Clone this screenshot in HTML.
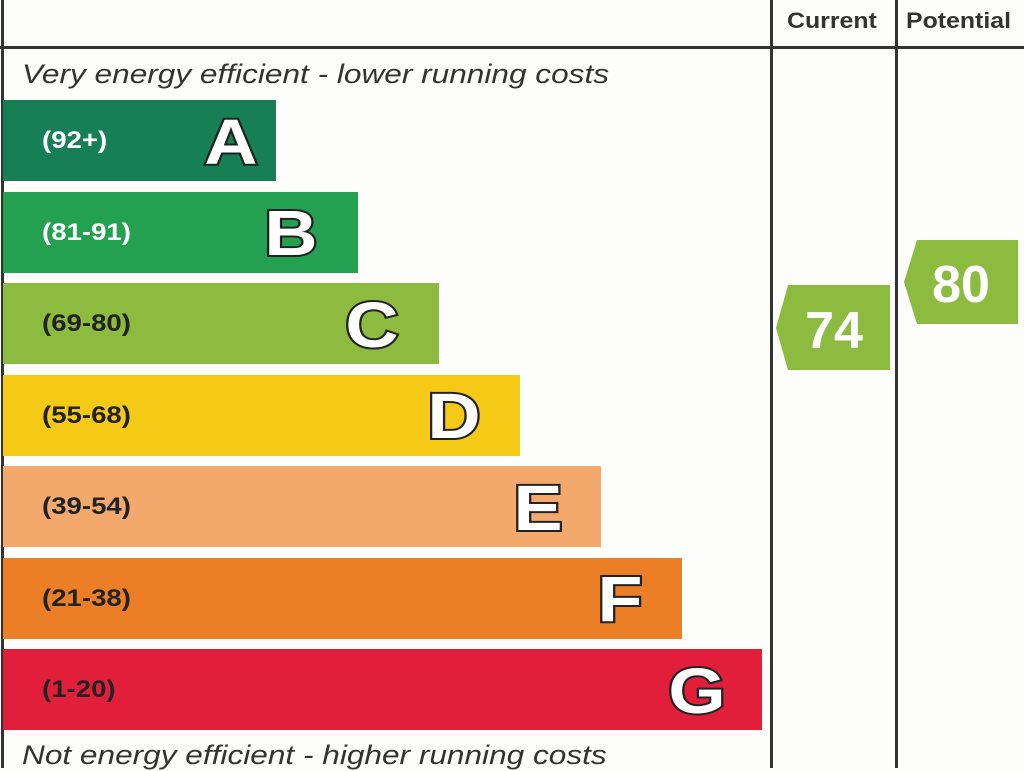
<!DOCTYPE html>
<html><head><style>
body{margin:0;width:1024px;height:768px;background:#fdfdfc;position:relative;overflow:hidden;font-family:"Liberation Sans",Arial,sans-serif}
.ln{position:absolute;background:#333}
.bar{position:absolute;left:3px;height:81px}
.r{position:absolute;left:39px;top:0;line-height:81px;font-size:24px;font-weight:bold;transform:scaleX(1.15);transform-origin:left center}
.it{position:absolute;left:22px;font-style:italic;font-size:27px;color:#333;transform:scaleX(1.17);transform-origin:left top;white-space:nowrap}
.h{position:absolute;top:8px;font-weight:bold;font-size:22px;color:#333;transform:scaleX(1.13);transform-origin:left top}
</style></head><body>
<div class="ln" style="left:1px;top:0;width:3px;height:768px"></div>
<div class="ln" style="left:0;top:46px;width:1024px;height:3px"></div>
<div class="ln" style="left:770px;top:0;width:3px;height:768px"></div>
<div class="ln" style="left:895px;top:0;width:3px;height:768px"></div>
<div class="h" style="left:787px">Current</div>
<div class="h" style="left:906px">Potential</div>
<div class="it" style="top:59px">Very energy efficient - lower running costs</div>
<div class="it" style="top:740px">Not energy efficient - higher running costs</div>
<div class="bar" style="top:100px;width:273px;background:#177f55"><span class="r" style="color:#fff">(92+)</span></div>
<div class="bar" style="top:192px;width:355px;background:#24a150"><span class="r" style="color:#fff">(81-91)</span></div>
<div class="bar" style="top:283px;width:436px;background:#8cbb3f"><span class="r" style="color:#222">(69-80)</span></div>
<div class="bar" style="top:375px;width:517px;background:#f5ca17"><span class="r" style="color:#222">(55-68)</span></div>
<div class="bar" style="top:466px;width:598px;background:#f2a96b"><span class="r" style="color:#222">(39-54)</span></div>
<div class="bar" style="top:558px;width:679px;background:#ec7f25"><span class="r" style="color:#222">(21-38)</span></div>
<div class="bar" style="top:649px;width:759px;background:#e21f3a"><span class="r" style="color:#222">(1-20)</span></div>
<svg style="position:absolute;left:0;top:0" width="1024" height="768">
<g font-family="Liberation Sans" font-weight="bold" font-size="64" fill="#fff" stroke="#222" stroke-width="4" paint-order="stroke" text-anchor="middle">
<text transform="translate(231,164) scale(1.15,1)">A</text>
<text transform="translate(291,255) scale(1.15,1)">B</text>
<text transform="translate(372,347) scale(1.15,1)">C</text>
<text transform="translate(454,438) scale(1.15,1)">D</text>
<text transform="translate(538,530) scale(1.15,1)">E</text>
<text transform="translate(620,621) scale(1.15,1)">F</text>
<text transform="translate(697,713) scale(1.15,1)">G</text>
</g>
<polygon points="776,328 788,285 890,285 890,370 788,370" fill="#8cbb3f"/>
<polygon points="904,282 917,240 1018,240 1018,324 917,324" fill="#8cbb3f"/>
<text x="834" y="348" font-family="Liberation Sans" font-weight="bold" font-size="52" fill="#fff" text-anchor="middle">74</text>
<text x="961" y="302" font-family="Liberation Sans" font-weight="bold" font-size="52" fill="#fff" text-anchor="middle">80</text>
</svg>
</body></html>
